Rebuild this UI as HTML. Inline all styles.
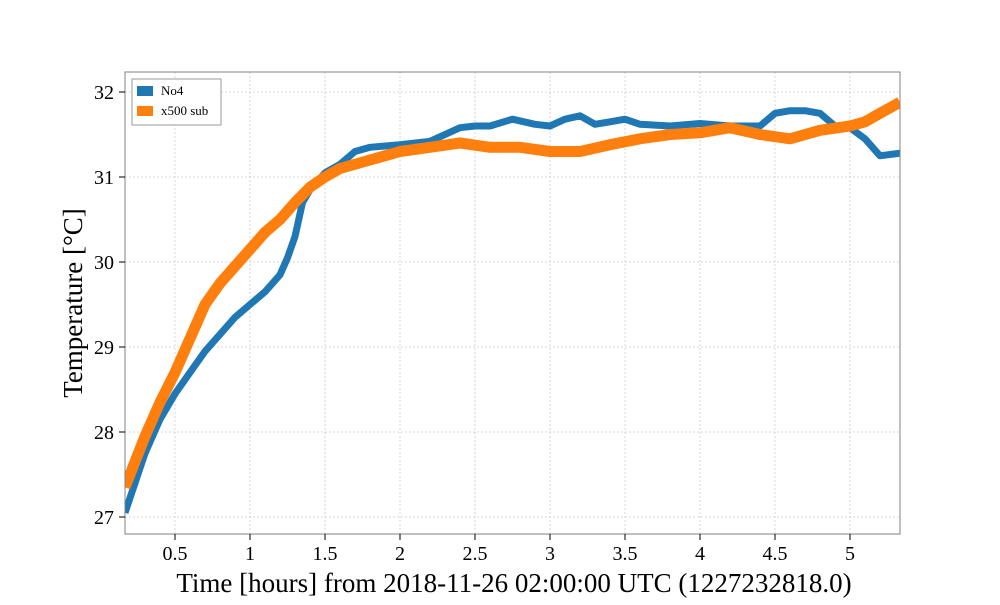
<!DOCTYPE html>
<html><head><meta charset="utf-8"><style>
body{margin:0;background:#fff}
svg text{font-family:"Liberation Serif","DejaVu Serif",serif;fill:#000}
</style></head><body>
<svg width="1000" height="600" xmlns="http://www.w3.org/2000/svg">
<g id="grid"></g>
<defs><clipPath id="cp"><rect x="125" y="72" width="775" height="462"/></clipPath></defs>
<g id="series" clip-path="url(#cp)"></g>
<rect x="125" y="72" width="775" height="462" fill="none" stroke="#808080" stroke-width="1"/>
<g id="ticks"></g>
<text x="514" y="592" font-size="27" text-anchor="middle">Time [hours] from 2018-11-26 02:00:00 UTC (1227232818.0)</text>
<text transform="translate(82,303) rotate(-90)" font-size="27" text-anchor="middle">Temperature [°C]</text>
<g>
<rect x="132" y="79" width="89" height="46" fill="#fff" stroke="#999" stroke-width="1"/>
<rect x="137" y="86" width="16" height="10" fill="#1f77b4"/>
<text x="161" y="95" font-size="13">No4</text>
<rect x="137" y="106" width="16" height="10" fill="#ff7f0e"/>
<text x="161" y="115" font-size="13">x500 sub</text>
</g>
</svg>
<script>
const xTicks=[0.5,1,1.5,2,2.5,3,3.5,4,4.5,5];
const xTickLabels=["0.5","1","1.5","2","2.5","3","3.5","4","4.5","5"];
const yTicks=[27,28,29,30,31,32];
const yTickLabels=["27","28","29","30","31","32"];
const no4X=[0.167,0.3,0.4,0.5,0.6,0.7,0.8,0.9,1.0,1.1,1.2,1.25,1.3,1.35,1.4,1.5,1.6,1.7,1.8,2.0,2.2,2.4,2.5,2.6,2.75,2.9,3.0,3.1,3.2,3.3,3.4,3.5,3.6,3.8,4.0,4.2,4.4,4.5,4.6,4.7,4.8,4.9,5.0,5.1,5.2,5.333];
const no4Y=[27.05,27.75,28.15,28.45,28.7,28.95,29.15,29.35,29.5,29.65,29.85,30.05,30.3,30.7,30.85,31.05,31.15,31.3,31.35,31.38,31.42,31.58,31.6,31.6,31.68,31.62,31.6,31.68,31.72,31.62,31.65,31.68,31.62,31.6,31.63,31.6,31.6,31.75,31.78,31.78,31.75,31.6,31.58,31.45,31.25,31.28];
const subX=[0.167,0.3,0.4,0.5,0.6,0.7,0.8,0.9,1.0,1.1,1.2,1.3,1.4,1.5,1.6,1.8,2.0,2.2,2.4,2.6,2.8,3.0,3.2,3.4,3.6,3.8,4.0,4.2,4.4,4.6,4.8,5.0,5.1,5.2,5.333];
const subY=[27.35,27.95,28.35,28.7,29.1,29.5,29.75,29.95,30.15,30.35,30.5,30.7,30.88,31.0,31.1,31.2,31.3,31.35,31.4,31.35,31.35,31.3,31.3,31.38,31.45,31.5,31.52,31.58,31.5,31.45,31.55,31.6,31.65,31.75,31.88];
const X0=0.1667,X1=5.3333,PX0=125,PX1=900,Y0=26.8,Y1=32.2353,PY0=534,PY1=72;
const sx=v=>PX0+(v-X0)/(X1-X0)*(PX1-PX0);
const sy=v=>PY0-(v-Y0)/(Y1-Y0)*(PY0-PY1);
const NS="http://www.w3.org/2000/svg";
const mk=(t,a,p)=>{const e=document.createElementNS(NS,t);for(const k in a)e.setAttribute(k,a[k]);p.appendChild(e);return e;};
const grid=document.getElementById('grid'),ticks=document.getElementById('ticks'),ser=document.getElementById('series');
xTicks.forEach((v,i)=>{const x=sx(v);
 const g=mk('line',{x1:x,x2:x,y1:72,y2:534,stroke:'#ccc','stroke-dasharray':'2,2','stroke-width':0.8},grid);
 
 
 const t=mk('line',{x1:x,x2:x,y1:534,y2:540,stroke:'#000'},ticks);
 
 
 const l=mk('text',{x:x,y:560,'font-size':20,'text-anchor':'middle'},ticks);l.textContent=xTickLabels[i];
 
 
});
yTicks.forEach((v,i)=>{const y=sy(v);
 const g=mk('line',{x1:125,x2:900,y1:y,y2:y,stroke:'#ccc','stroke-dasharray':'2,2','stroke-width':0.8},grid);
 
 
 const t=mk('line',{x1:119,x2:125,y1:y,y2:y,stroke:'#000'},ticks);
 
 
 const l=mk('text',{x:114,y:y+7,'font-size':20,'text-anchor':'end'},ticks);l.textContent=yTickLabels[i];
 
 
});
function line(xs,ys,c,w,name){
 const d=xs.map((v,i)=>(i?'L':'M')+sx(v).toFixed(1)+','+sy(ys[i]).toFixed(1)).join('');
 const p=mk('path',{d:d,fill:'none',stroke:c,'stroke-width':w,'stroke-linejoin':'round'},ser);
 
 
}
line(no4X,no4Y,'#1f77b4',7,'series-no4');
line(subX,subY,'#ff7f0e',11,'series-x500-sub');
</script>
</body></html>
